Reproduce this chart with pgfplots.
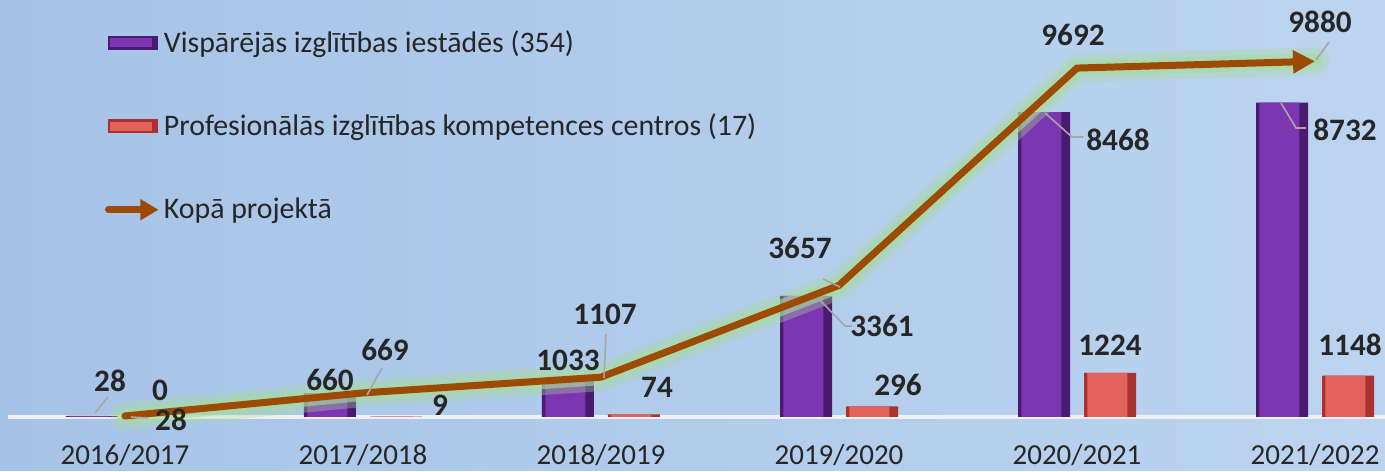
\documentclass[border=0pt]{standalone}
\usepackage{pgfplots}
\pgfplotsset{compat=1.18}
\usepackage{fontspec}
\setmainfont{Carlito}
\usetikzlibrary{arrows.meta}
\definecolor{bgL}{HTML}{A6C3E7}
\definecolor{bgR}{HTML}{BCD4EF}
\definecolor{purp}{HTML}{7D36B2}
\definecolor{purpD}{HTML}{4A1A70}
\definecolor{redb}{HTML}{E4625C}
\definecolor{redD}{HTML}{A8332E}
\definecolor{lineb}{HTML}{9C4A04}
\definecolor{glow}{HTML}{A6DC9C}
\definecolor{txt}{HTML}{262626}
\definecolor{lead}{HTML}{A6A6A6}
\begin{document}
\begin{tikzpicture}
\begin{axis}[
  name=ax,
  scale only axis, width=692.5pt, height=235.5pt,
  xmin=-0.525, xmax=5.294, ymin=-1500, ymax=11583,
  axis line style={draw=none},
  axis background/.style={left color=bgL, right color=bgR},
  ytick=\empty,
  xtick={0,1,2,3,4,5},
  xticklabels={2016/2017,2017/2018,2018/2019,2019/2020,2020/2021,2021/2022},
  major tick length=0pt,
  xticklabel style={anchor=base, yshift=3pt, font=\fontsize{14.5}{16}\selectfont, text=txt},
  legend style={at={(rel axis cs:0.0755,0.945)}, anchor=north west, draw=none, fill=none,
    font=\fontsize{14.9}{17}\selectfont, text=txt, row sep=25.5pt, inner sep=0pt,
    nodes={inner xsep=1pt}},
  legend cell align=left,
]
% baseline
\addplot[forget plot, color=white!88!gray, line width=1.6pt] coordinates {(-0.49,0) (5.294,0)};
% bars
\addplot[ybar, bar width=26pt, bar shift=-16.5pt, draw=none, fill=purpD,
  legend image code/.code={\fill[purpD] (0pt,-3.5pt) rectangle (25pt,3.5pt);
     \fill[purp] (0.8pt,-2.2pt) rectangle (22pt,2.2pt);}]
  coordinates {(0,28) (1,660) (2,1033) (3,3361) (4,8468) (5,8732)};
\addlegendentry{Vispārējās izglītības iestādēs (354)}
\addplot[forget plot, ybar, bar width=20pt, bar shift=-17.8pt, draw=none, fill=purp]
  coordinates {(0,28) (1,660) (2,1033) (3,3361) (4,8468) (5,8732)};
\addplot[ybar, bar width=26pt, bar shift=16.5pt, draw=none, fill=redD,
  legend image code/.code={\fill[redD] (0pt,-3.5pt) rectangle (25pt,3.5pt);
     \fill[redb] (0.8pt,-2.2pt) rectangle (22pt,2.2pt);}]
  coordinates {(0,0) (1,9) (2,74) (3,296) (4,1224) (5,1148)};
\addlegendentry{Profesionālās izglītības kompetences centros (17)}
\addplot[forget plot, ybar, bar width=20pt, bar shift=15.2pt, draw=none, fill=redb]
  coordinates {(0,0) (1,9) (2,74) (3,296) (4,1224) (5,1148)};
% glow
\addplot[forget plot, glow, opacity=0.35, line width=14pt, line join=round, line cap=round]
  coordinates {(0,28) (1,669) (2,1107) (3,3657) (4,9692) (5,9880)};
\addplot[forget plot, glow, opacity=0.6, line width=8pt, line join=round, line cap=round]
  coordinates {(0,28) (1,669) (2,1107) (3,3657) (4,9692) (5,9880)};
\addplot[lineb, line width=3.5pt, line join=miter, line cap=round,
  -{Triangle[length=11pt,width=11pt]},
  legend image code/.code={\draw[lineb, line width=3.5pt, line cap=round, -{Triangle[length=9pt,width=10pt]}] (0pt,0pt) -- (25pt,0pt);}]
  coordinates {(0,28) (1,669) (2,1107) (3,3657) (4,9692) (5,9880)};
\addlegendentry{Kopā projektā}
\end{axis}
\begin{scope}[shift={(ax.north west)}, x=0.5pt, y=-0.5pt]
  \begin{scope}[lead, line width=0.8pt]
    \draw (95,413) -- (108,397);
    \draw (131,417) -- (148,418);
    \draw (367,395) -- (382,368);
    \draw (604,378) -- (606,334);
    \draw (840,287) -- (823,279);
    \draw (818,298) -- (845,326) -- (852,326);
    \draw (1045,113) -- (1072,137) -- (1083,137);
    \draw (1281,103) -- (1296,128) -- (1306,128);
    \draw (1316,60) -- (1329,42);
  \end{scope}
  \begin{scope}[every node/.style={font=\fontsize{15.6}{18}\bfseries\selectfont, text=txt, inner sep=0pt}]
    \node at (110,381) {28};
    \node at (160,390) {0};
    \node at (171,420) {28};
    \node at (330,380) {660};
    \node at (385,350) {669};
    \node at (440,405) {9};
    \node at (568,360) {1033};
    \node at (605,314) {1107};
    \node at (657,387) {74};
    \node at (800,248) {3657};
    \node at (882,326) {3361};
    \node at (898,385) {296};
    \node at (1073,35) {9692};
    \node at (1118,140) {8468};
    \node at (1110,345) {1224};
    \node at (1320,22) {9880};
    \node at (1345,130) {8732};
    \node at (1350,345) {1148};
  \end{scope}
\end{scope}
\pgfresetboundingbox
\path (ax.south west) rectangle (ax.north east);
\end{tikzpicture}
\end{document}
